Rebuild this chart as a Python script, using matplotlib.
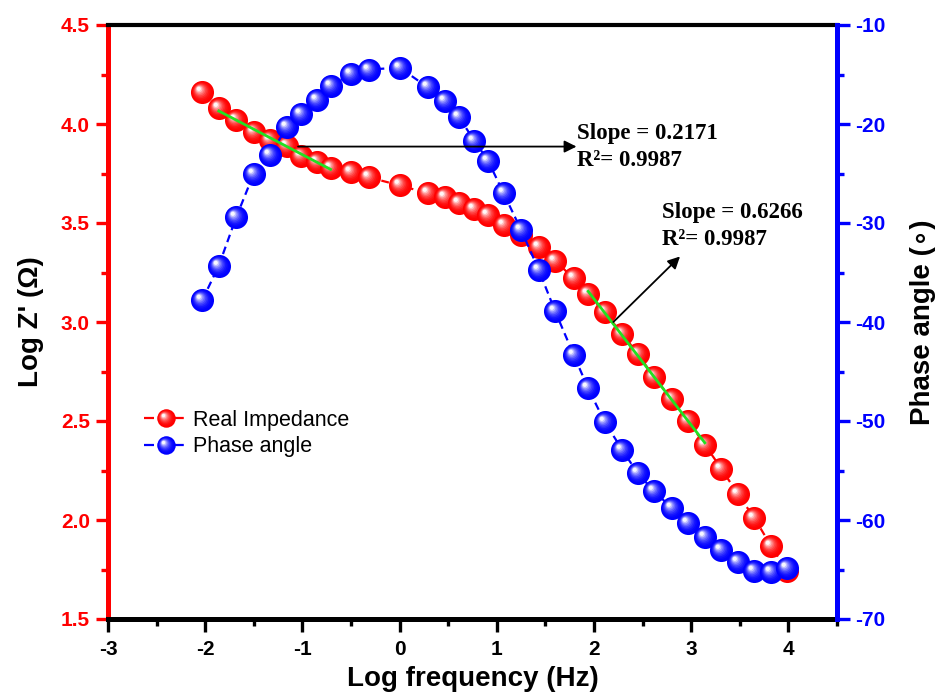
import numpy as np
import matplotlib
matplotlib.use("Agg")
import matplotlib.pyplot as plt
from matplotlib.path import Path
from matplotlib.lines import Line2D
from matplotlib.legend_handler import HandlerTuple
from matplotlib.colors import to_rgb

# ---- data -------------------------------------------------------------
log_freq = [-2.03, -1.86, -1.68, -1.50, -1.33, -1.16, -1.01, -0.85, -0.71,
            -0.50, -0.31, 0.00, 0.29, 0.47, 0.61, 0.77, 0.91, 1.07, 1.25,
            1.43, 1.60, 1.79, 1.94, 2.11, 2.29, 2.45, 2.62, 2.80, 2.97,
            3.14, 3.31, 3.48, 3.65, 3.82, 3.99]
log_z_real = [4.16, 4.08, 4.02, 3.96, 3.92, 3.89, 3.84, 3.81, 3.78, 3.76,
              3.73, 3.69, 3.65, 3.63, 3.60, 3.57, 3.54, 3.49, 3.44, 3.38,
              3.31, 3.22, 3.14, 3.05, 2.94, 2.84, 2.72, 2.61, 2.50, 2.38,
              2.26, 2.13, 2.01, 1.87, 1.74]
phase_angle = [-37.8, -34.3, -29.4, -25.0, -23.1, -20.3, -19.0, -17.6, -16.2,
               -14.9, -14.5, -14.3, -16.3, -17.7, -19.3, -21.7, -23.7, -27.0,
               -30.7, -34.7, -38.9, -43.3, -46.7, -50.1, -52.9, -55.3, -57.1,
               -58.8, -60.3, -61.7, -63.0, -64.2, -65.2, -65.3, -64.8]

series_labels = ["Real Impedance", "Phase angle"]
fit_low = (1, 9)     # index range of the low-frequency linear fit
fit_high = (22, 30)  # index range of the high-frequency linear fit
fit_texts = [("Slope = 0.2171", "R\u00b2= 0.9987"),
             ("Slope = 0.6266", "R\u00b2= 0.9987")]

x = np.array(log_freq)
yz = np.array(log_z_real)
yp = np.array(phase_angle)

RED = "#FF0000"
BLUE = "#0000FF"
SANS = ["Liberation Sans", "DejaVu Sans"]
SERIF = ["Liberation Serif", "DejaVu Serif"]

fig = plt.figure(figsize=(9.38, 6.94), dpi=100)
ax = fig.add_axes([108 / 938, 1 - 619 / 694, (837 - 108) / 938, (619 - 25) / 694])
ax2 = ax.twinx()


# ---- glossy sphere markers -------------------------------------------
def layer_marker(cx, cy, r):
    """Circle path inside a fixed [-1, 1] frame so offsets survive rescaling."""
    circ = Path.circle(center=(cx, cy), radius=r)
    frame = Path([(-1, -1), (1, 1)], [Path.MOVETO, Path.MOVETO])
    return Path.make_compound_path(frame, circ)


N_LAYERS = 10
LAYERS = []
for i in range(N_LAYERS):
    t = i / (N_LAYERS - 1)
    LAYERS.append((layer_marker(-0.32 * t, 0.32 * t, 1 - 0.82 * t), t ** 2.2))


def shade(base, w):
    rgb = np.array(to_rgb(base))
    return tuple(rgb + (1 - rgb) * min(w, 1.0) * 0.97)


def glossy_points(axis, xs, ys, base, ms, z):
    for xi, yi in zip(xs, ys):
        for mk, w in LAYERS:
            axis.plot([xi], [yi], ls="none", marker=mk, ms=ms,
                      mfc=shade(base, w), mec="none", zorder=z)


MS = 16.6
ax.plot(x, yz, color=RED, lw=1.6, ls=(0, (3.5, 2.2)), zorder=2)
glossy_points(ax, x, yz, RED, MS, 3)
ax2.plot(x, yp, color=BLUE, lw=1.6, ls=(0, (3.5, 2.2)), zorder=2)
glossy_points(ax2, x, yp, BLUE, MS, 3)

# ---- linear fits and annotations (drawn on top) -----------------------
for (a, b) in (fit_low, fit_high):
    k, c = np.polyfit(x[a:b], yz[a:b], 1)
    xx = np.array([x[a], x[b - 1]])
    ax2.plot(xx, k * xx + c, color="#22E022", lw=2.0, zorder=6,
             transform=ax.transData)

arrow_kw = dict(arrowstyle="-|>", color="black", lw=1.3, mutation_scale=18,
                shrinkA=0, shrinkB=0)
ax2.annotate("", xy=(1.82, 3.886), xytext=(-1.045, 3.886),
             xycoords=ax.transData, textcoords=ax.transData,
             arrowprops=arrow_kw, zorder=7)
ax2.annotate("", xy=(2.885, 3.331), xytext=(2.199, 3.0),
             xycoords=ax.transData, textcoords=ax.transData,
             arrowprops=arrow_kw, zorder=7)

text_kw = dict(family=SERIF, fontweight="bold", fontsize=16.5, va="center",
               ha="left", transform=ax.transData, zorder=8)
ax2.text(1.83, 3.954, fit_texts[0][0], **text_kw)
ax2.text(1.83, 3.816, fit_texts[0][1], **text_kw)
ax2.text(2.70, 3.555, fit_texts[1][0], **text_kw)
ax2.text(2.70, 3.417, fit_texts[1][1], **text_kw)

# ---- axes styling ------------------------------------------------------
ax.set_xlim(-3, 4.5)
ax.set_ylim(1.5, 4.5)
ax2.set_ylim(-70, -10)

ax.set_xticks(np.arange(-3, 5, 1))
ax.set_xticks(np.arange(-2.5, 4.6, 0.5), minor=True)
ax.set_yticks(np.arange(1.5, 4.51, 0.5))
ax.set_yticks(np.arange(1.75, 4.5, 0.5), minor=True)
ax2.set_yticks(np.arange(-70, -9, 10))
ax2.set_yticks(np.arange(-65, -10, 10), minor=True)

ax.set_xticklabels([f"{v:d}" for v in range(-3, 5)])
ax.set_yticklabels([f"{v:.1f}" for v in np.arange(1.5, 4.51, 0.5)])
ax2.set_yticklabels([f"{v:d}" for v in range(-70, -9, 10)])

for sp in ("left", "bottom", "top", "right"):
    ax2.spines[sp].set_visible(False)
ax.spines["right"].set_visible(False)
ax.spines["left"].set_color(RED)
ax.spines["left"].set_linewidth(3.6)
ax.spines["bottom"].set_color("black")
ax.spines["bottom"].set_linewidth(3.6)
ax.spines["top"].set_color("black")
ax.spines["top"].set_linewidth(3.0)
ax2.spines["right"].set_visible(True)
ax2.spines["right"].set_color(BLUE)
ax2.spines["right"].set_linewidth(3.6)

ax.tick_params(axis="x", which="major", direction="out", length=9, width=2.4,
               color="black", pad=6, top=False)
ax.tick_params(axis="x", which="minor", direction="out", length=5, width=2.4,
               color="black", top=False)
ax.tick_params(axis="y", which="major", direction="out", length=9, width=2.4,
               color=RED, labelcolor=RED, pad=4)
ax.tick_params(axis="y", which="minor", direction="out", length=5, width=2.4,
               color=RED)
ax2.tick_params(axis="y", which="major", direction="out", length=9, width=2.4,
                color=BLUE, labelcolor=BLUE, pad=4)
ax2.tick_params(axis="y", which="minor", direction="out", length=5, width=2.4,
                color=BLUE)

for lab in ax.get_xticklabels() + ax.get_yticklabels() + ax2.get_yticklabels():
    lab.set_fontfamily(SANS)
    lab.set_fontweight("bold")
    lab.set_fontsize(15)

ax.set_xlabel("Log frequency (Hz)", family=SANS, fontweight="bold",
              fontsize=20, labelpad=5)
ax.set_ylabel("Log Z' (\u03a9)", family=SANS, fontweight="bold",
              fontsize=20, labelpad=12)
ax2.set_ylabel("Phase angle (\u2218)", family=SANS, fontweight="bold",
               fontsize=20, labelpad=18)

# ---- legend ------------------------------------------------------------
LEG_MS = 13.3


def legend_handle(color):
    parts = [Line2D([], [], color=color, lw=1.6, ls=(0, (4.5, 2.2)))]
    for mk, w in LAYERS:
        parts.append(Line2D([], [], ls="none", marker=mk, ms=LEG_MS,
                            mfc=shade(color, w), mec="none"))
    return tuple(parts)


leg = ax2.legend([legend_handle(RED), legend_handle(BLUE)], series_labels,
                 handler_map={tuple: HandlerTuple(ndivide=1, pad=0)},
                 loc="upper left", bbox_to_anchor=(0.050, 0.352),
                 frameon=False, prop={"family": SANS, "size": 15.5},
                 handlelength=2.0, handletextpad=0.25, labelspacing=0.25,
                 borderpad=0, borderaxespad=0)
leg.set_zorder(9)

fig.savefig("out.png", dpi=100)
